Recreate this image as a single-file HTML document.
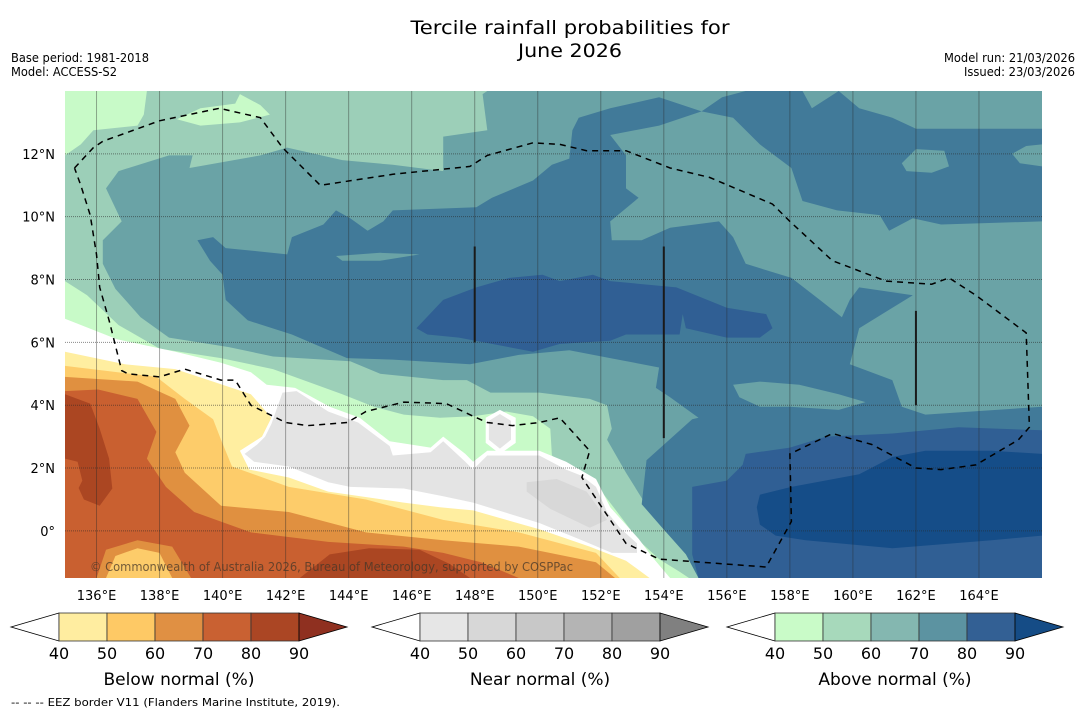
<!DOCTYPE html>
<html><head><meta charset="utf-8"><title>Tercile rainfall probabilities</title>
<style>
html,body{margin:0;padding:0;background:#fff;}
svg{display:block;font-family:"DejaVu Sans","Liberation Sans",sans-serif;}
</style></head>
<body>
<svg id="chart" width="1085" height="713" viewBox="0 0 1085 713" xmlns="http://www.w3.org/2000/svg">
  <rect width="1085" height="713" fill="#ffffff"/>
  <text x="570" y="34" text-anchor="middle" font-size="19" textLength="319" lengthAdjust="spacingAndGlyphs" fill="#000">Tercile rainfall probabilities for</text>
  <text x="570" y="57" text-anchor="middle" font-size="19" textLength="104" lengthAdjust="spacingAndGlyphs" fill="#000">June 2026</text>
  <text x="11" y="62" font-size="12" textLength="138" lengthAdjust="spacingAndGlyphs" fill="#000">Base period: 1981-2018</text>
  <text x="11" y="76" font-size="12" textLength="106" lengthAdjust="spacingAndGlyphs" fill="#000">Model: ACCESS-S2</text>
  <text x="1075" y="62" text-anchor="end" font-size="12" textLength="131" lengthAdjust="spacingAndGlyphs" fill="#000">Model run: 21/03/2026</text>
  <text x="1075" y="76" text-anchor="end" font-size="12" textLength="111" lengthAdjust="spacingAndGlyphs" fill="#000">Issued: 23/03/2026</text>
  <defs><clipPath id="mapclip"><rect x="65" y="91" width="977" height="487"/></clipPath></defs>
  <g id="map" clip-path="url(#mapclip)"></g>
  <g id="overlay"></g>
  <g id="axes"></g>
  <g id="cbars"></g>
  <text x="11" y="706" font-size="11" textLength="329" lengthAdjust="spacingAndGlyphs" fill="#000">--  --  -- EEZ border V11 (Flanders Marine Institute, 2019).</text>
</svg>
<script>
// ---- axis data ----
const lonTicks = [136,138,140,142,144,146,148,150,152,154,156,158,160,162,164];
const latTicks = [0,2,4,6,8,10,12];
const cbarLevels = [40,50,60,70,80,90];
const cbarTitles = ["Below normal (%)","Near normal (%)","Above normal (%)"];

// ---- contour region data (lon,lat pairs) ----
const topLeftGreen = [135,14, 137.6,14, 137.5,13.25, 137.3,12.9, 135.9,12.75, 135.5,12.3, 135,11.95];
const greenSliver = [138.55,13.1, 139.3,13.45, 140.4,13.6, 140.55,13.9, 141.2,13.55, 141.5,13.25, 140.55,13.0, 139.3,12.9];
const above60Main = [148.4,14, 166,14, 166,-1.5, 155.45,-1.5, 155.1,-0.8, 154.3,-0.05, 153.45,0.8, 152.8,1.85, 152.2,2.9, 152.35,3.25, 152.2,4.0, 151.65,4.2, 150.05,4.4, 148.5,4.4, 147.75,4.8, 147.0,4.8, 145.0,5.0, 144.05,5.4, 141.6,5.55, 140.2,5.85, 138.3,6.15, 137.4,6.8, 136.6,7.7, 136.2,8.5, 136.2,9.25, 136.8,9.85, 136.3,10.9, 136.7,11.45, 138.3,11.95, 139.05,11.95, 138.95,11.55, 141.2,11.95, 142.05,12.2, 143.8,11.8, 145.4,11.65, 147.0,11.45, 147.0,12.55, 148.4,12.75, 148.25,13.9];
const above50East = [166,6.55, 164.65,6.8, 163.85,6.65, 163.0,6.1, 162.95,5.15, 163.5,4.65, 164.65,4.35, 166,4.05];
const above70Main = [139.2,9.25, 139.7,9.35, 140.1,9.0, 141.1,8.9, 142.05,8.8, 142.2,9.35, 143.2,9.75, 143.6,10.2, 144.05,9.95, 144.6,9.55, 145.1,9.85, 145.4,10.2, 148.05,10.3, 148.55,10.6, 149.85,11.15, 150.45,11.65, 151.0,11.85, 151.1,12.75, 151.3,13.15, 152.3,13.45, 153.85,13.8, 155.2,13.35, 155.85,13.8, 156.6,14, 158.4,14, 158.7,13.45, 159.55,14, 160.2,13.45, 161.25,13.15, 162.0,12.8, 166,12.8, 166,-1.5, 155.1,-1.5, 154.7,-0.75, 153.95,0.1, 153.3,0.85, 153.45,2.25, 154.9,3.55, 155.1,3.6, 154.2,4.25, 153.75,4.55, 153.85,5.2, 152.3,5.5, 151.0,5.75, 149.4,5.6, 147.85,5.3, 145.4,5.45, 143.95,5.5, 142.2,6.25, 140.8,6.7, 140.1,7.35, 140.0,8.15, 139.6,8.6];
const above60Tongue = [152.3,12.6, 153.85,12.9, 155.2,13.35, 156.2,13.15, 157.05,12.3, 158.05,11.55, 158.4,10.5, 159.5,10.2, 160.85,10.05, 161.15,9.55, 161.9,9.95, 162.8,9.75, 166,9.85, 166,3.95, 162.3,3.7, 161.55,3.95, 161.25,4.8, 159.9,5.3, 160.2,6.45, 161.9,7.5, 160.2,7.75, 159.9,7.35, 159.65,6.8, 158.95,7.35, 158.05,8.05, 156.6,8.5, 156.2,9.35, 155.75,9.85, 154.2,9.65, 153.3,9.25, 152.35,9.25, 152.3,9.85, 153.2,10.6, 152.8,10.9, 152.8,11.95];
const above60PatchA = [161.55,11.7, 162,12.15, 162.9,12.1, 163.05,11.6, 162.5,11.4, 161.7,11.45];
const above60PatchB = [165.05,12.0, 165.5,12.25, 166,12.3, 166,11.6, 165.3,11.7];
const above60PatchC = [156.2,4.65, 157.05,4.75, 158.3,4.65, 159.55,4.35, 160.4,4.1, 159.55,3.85, 158.0,3.95, 157.05,3.95, 156.4,4.25];
const above60Sliver = [143.6,8.75, 145,8.85, 146.25,8.8, 145,8.6, 143.8,8.6];
const above80West = [146.15,6.45, 147.0,7.35, 148.05,7.75, 149.1,8.05, 150.15,8.15, 150.7,7.95, 151.75,8.15, 152.3,7.95, 154.4,7.75, 156.0,7.1, 157.25,6.9, 157.45,6.45, 157.05,6.15, 156.0,6.15, 154.7,6.45, 154.6,6.9, 154.5,6.25, 152.8,6.25, 152.3,6.05, 150.7,5.95, 149.85,5.7, 148.55,5.95, 147.5,6.15, 146.5,6.25];
const above80East = [156.6,2.45, 158.0,2.65, 159.15,3.0, 161.25,3.1, 163.35,3.3, 166,3.2, 166,-1.5, 155.1,-1.5, 154.9,-0.75, 154.9,1.4, 156.0,1.6, 156.5,2.1];
const above90 = [157.05,1.15, 158.05,1.4, 160.2,1.8, 161.25,2.35, 162.3,2.55, 164.4,2.55, 166,2.45, 166,-0.15, 164.4,-0.3, 161.25,-0.55, 158.5,-0.3, 157.55,-0.15, 157.05,0.2, 156.95,0.75];
const above40SW = [135,7.95, 135.7,7.5, 136.7,6.55, 138.0,5.8, 139.95,5.5, 141.6,5.15, 143.8,4.35, 144.8,3.95, 145.75,3.7, 146.9,3.6, 147.95,3.65, 149.0,3.8, 149.85,3.65, 150.4,3.25, 150.45,2.4, 150.9,2.05, 151.3,1.8, 151.95,1.35, 152.6,0.5, 153.2,-0.3, 153.85,-0.9, 154.5,-1.3, 154.8,-1.5, 135,-1.5];
const noSignalSW = [135,6.75, 136.65,6.1, 138.5,5.7, 139.95,5.35, 140.9,5.05, 141.4,4.65, 142.3,4.55, 143.4,3.95, 144.35,3.6, 145.3,2.85, 146.6,2.65, 147.0,3.0, 147.7,2.45, 147.95,2.2, 148.4,2.55, 150.05,2.55, 150.9,2.2, 151.85,1.65, 152.3,0.75, 153.2,-0.25, 153.65,-0.85, 154.2,-1.5, 135,-1.5];
const noSignalDiamond = [148.35,3.6, 148.8,3.85, 149.3,3.6, 149.3,2.8, 148.8,2.45, 148.35,2.8];
const near40Main = [140.7,2.45, 141.1,2.75, 141.35,3.0, 141.55,3.4, 141.9,4.4, 142.35,4.45, 143.35,3.8, 144.3,3.45, 145.3,2.7, 145.4,2.4, 146.6,2.5, 147.0,2.85, 147.7,2.2, 147.95,1.95, 148.4,2.4, 150.05,2.4, 150.9,1.95, 151.4,1.75, 151.85,1.4, 152.2,0.6, 152.6,0.1, 153.15,-0.4, 153.15,-0.7, 152.35,-0.7, 151.4,-0.3, 150.05,0.25, 147.95,0.9, 147.0,1.1, 145.75,1.35, 144.05,1.4, 143.35,1.55, 142.6,1.85, 142.1,2.05, 141.0,2.2];
const near40Diamond = [148.45,3.5, 148.8,3.72, 149.15,3.5, 149.15,2.9, 148.8,2.62, 148.45,2.9];
const near50Patch = [149.65,1.55, 150.6,1.65, 151.55,1.25, 152.2,0.35, 151.65,0.1, 150.4,0.7, 149.65,1.25];
const below40 = [135,5.7, 136.9,5.3, 138.5,5.15, 139.7,4.75, 140.9,4.35, 141.55,3.6, 141.25,3.0, 140.55,2.55, 140.85,1.95, 142.1,1.7, 143.35,1.25, 145.75,0.9, 146.9,0.75, 147.95,0.65, 150.05,0.05, 151.65,-0.5, 152.8,-0.95, 153.55,-1.5, 135,-1.5];
const below50 = [135,5.25, 137.9,4.9, 138.8,4.2, 139.7,3.55, 139.95,2.9, 140.3,2.05, 142.1,1.4, 144.55,1.0, 147.0,0.35, 149.4,-0.05, 151.85,-0.7, 152.6,-1.5, 135,-1.5];
const below60 = [135,4.9, 137.3,4.75, 138.5,4.2, 138.95,3.35, 138.5,2.5, 138.8,1.85, 139.95,0.8, 142.1,0.6, 144.55,-0.05, 147.0,-0.3, 149.4,-0.5, 151.85,-1.0, 152.45,-1.5, 135,-1.5];
const below70 = [135,4.45, 136.05,4.5, 137.3,4.2, 137.9,3.15, 137.6,2.3, 138.2,1.4, 139.1,0.6, 140.9,-0.05, 143.35,-0.35, 145.75,-0.5, 147.0,-0.7, 148.2,-1.0, 149.4,-1.5, 135,-1.5];
const below60Bump = [136.0,-1.5, 136.3,-0.6, 137.3,-0.3, 138.4,-0.5, 139.0,-1.5];
const below50Bump = [136.3,-1.5, 136.6,-0.8, 137.3,-0.55, 138.0,-0.7, 138.4,-1.5];
const below80West = [135,4.35, 135.8,4.05, 136.1,3.25, 136.4,2.3, 136.5,1.35, 136.1,0.8, 135.6,1.0, 135.3,1.65, 135,1.65];
const below70Pocket = [135,2.3, 135.4,2.2, 135.55,1.6, 135.35,1.2, 135,1.2];
const below80South = [142.45,-1.5, 143.4,-0.75, 144.65,-0.55, 146.25,-0.6, 147.2,-1.05, 147.85,-1.5];

const eezBorder = [135.3,11.55, 135.9,12.2, 136.2,12.4, 138.0,13.05, 139.9,13.45, 141.2,13.15, 141.9,12.2, 143.1,11.0, 145.4,11.35, 147.85,11.6, 148.4,11.95, 149.85,12.35, 150.7,12.3, 151.55,12.1, 152.8,12.1, 154.2,11.55, 155.45,11.25, 157.45,10.4, 158.0,9.85, 159.35,8.6, 161.05,7.95, 162.5,7.85, 163.05,8.05, 163.9,7.5, 165.5,6.3, 165.6,3.3, 165.25,2.9, 163.9,2.1, 162.8,1.95, 162.0,2.0, 160.6,2.75, 159.35,3.1, 158.0,2.45, 158.05,0.3, 157.25,-1.15, 153.85,-0.9, 152.8,-0.4, 151.4,1.7, 151.65,2.55, 150.7,3.6, 150.05,3.45, 149.2,3.35, 148.4,3.45, 147.95,3.65, 147.1,4.05, 145.75,4.1, 144.55,3.8, 143.95,3.45, 142.7,3.35, 142.0,3.45, 140.9,4.0, 140.4,4.8, 139.95,4.8, 138.8,5.15, 138.0,4.9, 137.0,5.0, 136.8,5.1, 136.4,6.7, 136.1,7.75, 136.0,8.8, 135.8,10.05, 135.5,11.0, 135.3,11.55];
const markerLons = [148, 154, 162];
const markerLatTop = [9.05, 9.05, 7.0];
const markerLatBottom = [6.0, 2.95, 4.0];

// ---- axis functions ----
const MX0 = 65, MX1 = 1042, MY0 = 91, MY1 = 578;
const LON0 = 135, LON1 = 166, LAT0 = -1.5, LAT1 = 14;
function xOf(lon){ return MX0 + (lon - LON0) * (MX1 - MX0) / (LON1 - LON0); }
function yOf(lat){ return MY0 + (LAT1 - lat) * (MY1 - MY0) / (LAT1 - LAT0); }
function ptsOf(arr){
  const out = [];
  for (let i = 0; i < arr.length; i += 2) out.push(xOf(arr[i]).toFixed(1) + "," + yOf(arr[i+1]).toFixed(1));
  return out.join(" ");
}
const NS = "http://www.w3.org/2000/svg";
const mapG = document.getElementById("map");
const ovG = document.getElementById("overlay");
const axG = document.getElementById("axes");
const cbG = document.getElementById("cbars");

const base = document.createElementNS(NS, "rect");
base.setAttribute("x", MX0); base.setAttribute("y", MY0);
base.setAttribute("width", MX1 - MX0); base.setAttribute("height", MY1 - MY0);
base.setAttribute("fill", "#9ccfb8");


mapG.appendChild(base);

const layers = [
  ["above-40-top-left", topLeftGreen, "#c8fac8"],
  ["above-40-sliver", greenSliver, "#c8fac8"],
  ["above-60-region", above60Main, "#6aa3a6"],
  ["above-50-east", above50East, "#9ccfb8"],
  ["above-70-region", above70Main, "#417a99"],
  ["above-60-tongue", above60Tongue, "#6aa3a6"],
  ["above-60-patch-a", above60PatchA, "#6aa3a6"],
  ["above-60-patch-b", above60PatchB, "#6aa3a6"],
  ["above-60-patch-c", above60PatchC, "#6aa3a6"],
  ["above-60-sliver", above60Sliver, "#6aa3a6"],
  ["above-80-west", above80West, "#305f94"],
  ["above-80-east", above80East, "#305f94"],
  ["above-90-region", above90, "#154d88"],
  ["above-40-southwest", above40SW, "#c8fac8"],
  ["no-signal-band", noSignalSW, "#ffffff"],
  ["no-signal-diamond", noSignalDiamond, "#ffffff"],
  ["near-40-region", near40Main, "#e4e4e4"],
  ["near-40-diamond", near40Diamond, "#e4e4e4"],
  ["near-50-patch", near50Patch, "#d8d8d8"],
  ["below-40-region", below40, "#ffeea0"],
  ["below-50-region", below50, "#fdcc6a"],
  ["below-60-region", below60, "#e09040"],
  ["below-70-region", below70, "#c96030"],
  ["below-60-bump", below60Bump, "#e09040"],
  ["below-50-bump", below50Bump, "#fdcc6a"],
  ["below-80-west", below80West, "#ab4622"],
  ["below-70-pocket", below70Pocket, "#c96030"],
  ["below-80-south", below80South, "#ab4622"]
];
layers.forEach(function(L){
  const p = document.createElementNS(NS, "polygon");
  p.setAttribute("points", ptsOf(L[1]));
  p.setAttribute("fill", L[2]);
  
  
  mapG.appendChild(p);
});

// grid lines
lonTicks.forEach(function(lon){
  const l = document.createElementNS(NS, "line");
  l.setAttribute("x1", xOf(lon)); l.setAttribute("x2", xOf(lon));
  l.setAttribute("y1", MY0); l.setAttribute("y2", MY1);
  l.setAttribute("stroke", "rgba(40,40,40,0.4)"); l.setAttribute("stroke-width", "1");
  
  
  mapG.appendChild(l);
});
latTicks.forEach(function(lat){
  const l = document.createElementNS(NS, "line");
  l.setAttribute("x1", MX0); l.setAttribute("x2", MX1);
  l.setAttribute("y1", yOf(lat)); l.setAttribute("y2", yOf(lat));
  l.setAttribute("stroke", "rgba(40,40,40,0.55)"); l.setAttribute("stroke-width", "1");
  l.setAttribute("stroke-dasharray", "1,1");
  
  
  mapG.appendChild(l);
});

// EEZ border
const eez = document.createElementNS(NS, "polyline");
eez.setAttribute("points", ptsOf(eezBorder));
eez.setAttribute("fill", "none"); eez.setAttribute("stroke", "#000");
eez.setAttribute("stroke-width", "1.5"); eez.setAttribute("stroke-dasharray", "6,5");


mapG.appendChild(eez);

// black markers
markerLons.forEach(function(lon, i){
  const l = document.createElementNS(NS, "line");
  l.setAttribute("x1", xOf(lon)); l.setAttribute("x2", xOf(lon));
  l.setAttribute("y1", yOf(markerLatTop[i])); l.setAttribute("y2", yOf(markerLatBottom[i]));
  l.setAttribute("stroke", "#1a1a1a"); l.setAttribute("stroke-width", "2");
  
  
  mapG.appendChild(l);
});

// copyright
const cp = document.createElementNS(NS, "text");
cp.setAttribute("x", 90); cp.setAttribute("y", 571);
cp.setAttribute("font-size", "12"); cp.setAttribute("fill", "rgba(70,55,40,0.75)");
cp.setAttribute("textLength", "483"); cp.setAttribute("lengthAdjust", "spacingAndGlyphs");
cp.textContent = "\u00A9 Commonwealth of Australia 2026, Bureau of Meteorology, supported by COSPPac";


ovG.appendChild(cp);

// tick labels
lonTicks.forEach(function(lon){
  const t = document.createElementNS(NS, "text");
  t.setAttribute("x", xOf(lon)); t.setAttribute("y", 600);
  t.setAttribute("text-anchor", "middle"); t.setAttribute("font-size", "13");
  t.textContent = lon + "\u00B0E";
  
  
  axG.appendChild(t);
});
latTicks.forEach(function(lat){
  const t = document.createElementNS(NS, "text");
  t.setAttribute("x", 55); t.setAttribute("y", yOf(lat) + 5);
  t.setAttribute("text-anchor", "end"); t.setAttribute("font-size", "13");
  t.textContent = lat === 0 ? "0\u00B0" : lat + "\u00B0N";
  
  
  axG.appendChild(t);
});

// colorbars
const cbarColors = [
  ["#ffeda0","#fec965","#e09043","#c96132","#ab4624","#8f3020"],
  ["#e6e6e6","#d7d7d7","#c8c8c8","#b4b4b4","#a0a0a0","#808080"],
  ["#c9fbc8","#a7d9bb","#84b7b0","#5c93a1","#336094","#154c86"]
];
const cbarLeft = [59, 420, 775];
const segW = 48, cbTop = 613, cbBot = 641, cbMid = 627;
cbarTitles.forEach(function(title, b){
  const x0 = cbarLeft[b];
  const x1 = x0 + segW * (cbarLevels.length - 1);
  const lt = document.createElementNS(NS, "polygon");
  lt.setAttribute("points", x0 + "," + cbTop + " " + (x0 - 48) + "," + cbMid + " " + x0 + "," + cbBot);
  lt.setAttribute("fill", "#fff"); lt.setAttribute("stroke", "#000"); lt.setAttribute("stroke-width", "0.8");
  
  
  cbG.appendChild(lt);
  for (let i = 0; i < cbarLevels.length - 1; i++) {
    const r = document.createElementNS(NS, "rect");
    r.setAttribute("x", x0 + i * segW); r.setAttribute("y", cbTop);
    r.setAttribute("width", segW); r.setAttribute("height", cbBot - cbTop);
    r.setAttribute("fill", cbarColors[b][i]); r.setAttribute("stroke", "#333"); r.setAttribute("stroke-width", "0.8");
    
    
    cbG.appendChild(r);
  }
  const rt = document.createElementNS(NS, "polygon");
  rt.setAttribute("points", x1 + "," + cbTop + " " + (x1 + 48) + "," + cbMid + " " + x1 + "," + cbBot);
  rt.setAttribute("fill", cbarColors[b][5]); rt.setAttribute("stroke", "#000"); rt.setAttribute("stroke-width", "0.8");
  
  
  cbG.appendChild(rt);
  cbarLevels.forEach(function(v, i){
    const t = document.createElementNS(NS, "text");
    t.setAttribute("x", x0 + i * segW); t.setAttribute("y", 659);
    t.setAttribute("text-anchor", "middle"); t.setAttribute("font-size", "16");
    t.textContent = v;
    
    
    cbG.appendChild(t);
  });
  const tt = document.createElementNS(NS, "text");
  tt.setAttribute("x", (x0 + x1) / 2); tt.setAttribute("y", 685);
  tt.setAttribute("text-anchor", "middle"); tt.setAttribute("font-size", "17");
  tt.textContent = title;
  
  
  cbG.appendChild(tt);
});
</script>
</body></html>
